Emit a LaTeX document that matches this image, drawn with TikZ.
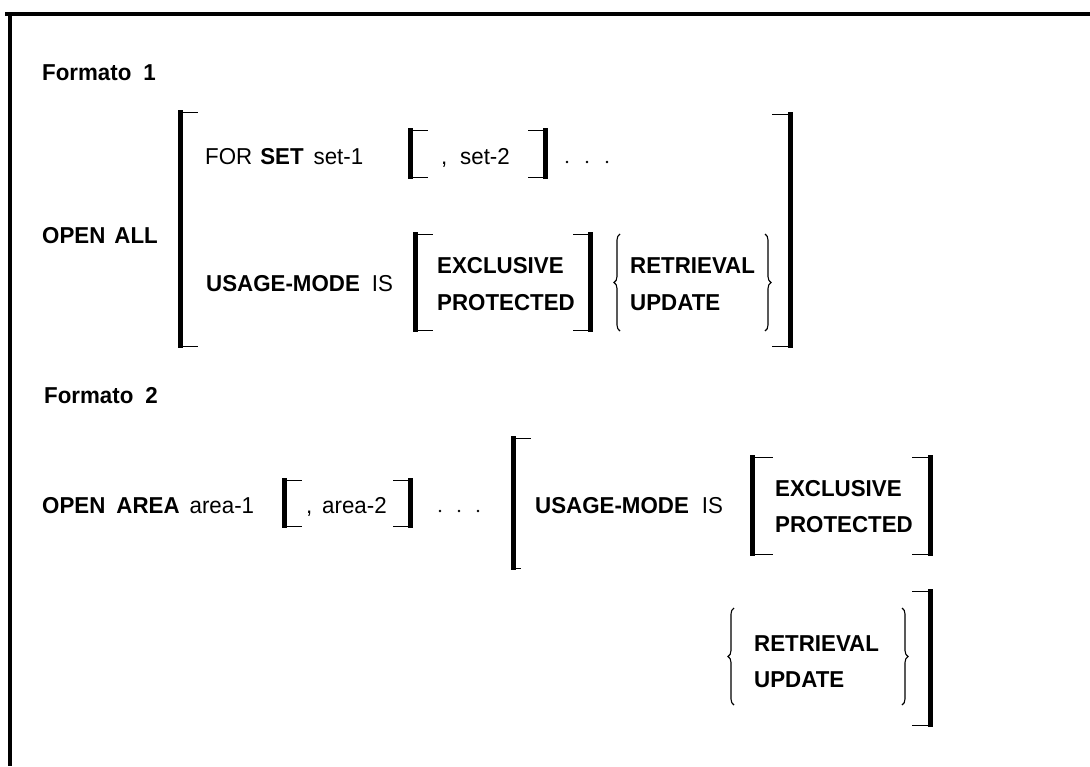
\documentclass[tikz,border=0pt]{standalone}
\usepackage{fontspec}
\setmainfont{Liberation Sans}[FakeStretch=0.97]
\usetikzlibrary{decorations.pathreplacing}
\newcommand\Lbrk[4]{%
  \draw[barline] (#1,#2) -- (#1,#3);
  \draw[tickline] (#1+2.5,#2+2) -- ++(#4,0);
  \draw[tickline] (#1+2.5,#3-2) -- ++(#4,0);}
\newcommand\Rbrk[4]{%
  \draw[barline] (#1,#2) -- (#1,#3);
  \draw[tickline] (#1-2.5,#2+2) -- ++(-#4,0);
  \draw[tickline] (#1-2.5,#3-2) -- ++(-#4,0);}
\begin{document}
\begin{tikzpicture}[x=1pt,y=-1pt,
  txt/.style={inner sep=0pt,anchor=base west,font=\fontsize{23}{26}\selectfont},
  barline/.style={line width=5pt},
  tickline/.style={line width=0.9pt},
  frameline/.style={line width=3.6pt},
  brc/.style={line width=1.1pt,decorate,decoration={brace,amplitude=6pt,aspect=0.5}},
  dotc/.style={fill=black,draw=none}]
\useasboundingbox (0,0) rectangle (1090,766);
% frame
\draw[frameline] (5,14) -- (1090,14);
\draw[line width=4pt] (10,12) -- (10,766);

% ---------------- Formato 1
\node[txt] (f1) at (42,80) {\textbf{Formato\hspace{12pt}1}};
\node[txt] (oa) at (42,243) {\textbf{OPEN\hspace{9pt}ALL}};
\Lbrk{180}{110}{348}{15}
\Rbrk{790}{112}{348}{16}

\node[txt] (for) at (205,164) {FOR\hspace{8pt}\textbf{SET}\hspace{10pt}set-1};
\Lbrk{410.5}{128}{179}{15}
\node[txt] (c1) at (441,164) {,};
\node[txt] (s2) at (460,164) {set-2};
\Rbrk{545}{128}{179}{15}
\fill[dotc] (567,162) circle (1.4) (587,162) circle (1.4) (607,162) circle (1.4);

\node[txt] (um1) at (206,291) {\textbf{USAGE-MODE}\hspace{12pt}IS};
\Lbrk{415.5}{232}{332}{15}
\node[txt] (ex1) at (437,273) {\textbf{EXCLUSIVE}};
\node[txt] (pr1) at (437,310) {\textbf{PROTECTED}};
\Rbrk{590.5}{232}{332}{15}
\draw[brc] (620,331) -- (620,234);
\node[txt] (re1) at (630,273) {\textbf{RETRIEVAL}};
\node[txt] (up1) at (630,310) {\textbf{UPDATE}};
\draw[brc] (765,234) -- (765,331);

% ---------------- Formato 2
\node[txt] (f2) at (44,403) {\textbf{Formato\hspace{12pt}2}};
\node[txt] (oar) at (42,513) {\textbf{OPEN\hspace{11pt}AREA}\hspace{10pt}area-1};
\Lbrk{284.5}{478}{528}{15}
\node[txt] (c2) at (306,513) {,};
\node[txt] (a2) at (322,513) {area-2};
\Rbrk{410.5}{478}{528}{15}
\fill[dotc] (440,511) circle (1.4) (459,511) circle (1.4) (478,511) circle (1.4);

\draw[barline] (513.5,436) -- (513.5,570);
\draw[tickline] (516,438) -- ++(15,0);
\draw[tickline] (516,568) -- ++(5,0);
\node[txt] (um2) at (535,513) {\textbf{USAGE-MODE}\hspace{13pt}IS};
\Lbrk{752.5}{455}{556}{18}
\node[txt] (ex2) at (775,496) {\textbf{EXCLUSIVE}};
\node[txt] (pr2) at (775,532) {\textbf{PROTECTED}};
\Rbrk{930.5}{455}{556}{16}

\draw[brc] (734,705) -- (734,608);
\node[txt] (re2) at (754,651) {\textbf{RETRIEVAL}};
\node[txt] (up2) at (754,687) {\textbf{UPDATE}};
\draw[brc] (902,608) -- (902,705);
\Rbrk{930.5}{589}{727}{16}
\end{tikzpicture}
\end{document}
